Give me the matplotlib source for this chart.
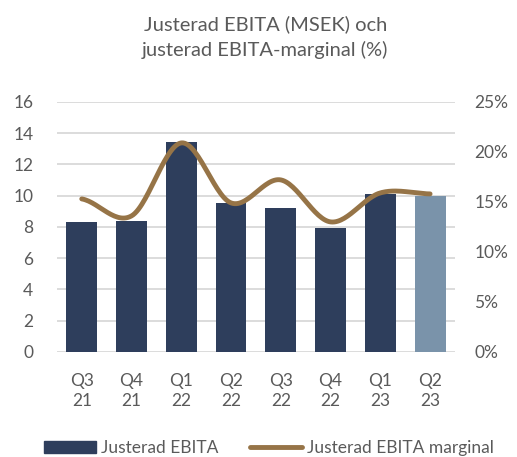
import matplotlib.pyplot as plt
import matplotlib.patches as patches
from matplotlib.lines import Line2D
from matplotlib.ticker import FuncFormatter
import numpy as np

plt.rcParams["font.family"] = ["Lato", "DejaVu Sans"]

quarters = ["Q3\n21", "Q4\n21", "Q1\n22", "Q2\n22", "Q3\n22", "Q4\n22", "Q1\n23", "Q2\n23"]
ebita = [8.3, 8.4, 13.45, 9.5, 9.2, 7.9, 10.1, 9.95]
margin = [15.3, 13.6, 20.9, 14.9, 17.2, 13.0, 15.9, 15.8]

bar_color = "#2E3E5C"
last_color = "#7A93AA"
line_color = "#967447"
text_color = "#5A5A5A"


def smooth(xs, ys, n=30):
    # Catmull-Rom style smoothing, like a "smoothed line" in a spreadsheet
    xs = np.asarray(xs, float)
    ys = np.asarray(ys, float)
    px = np.concatenate([[2 * xs[0] - xs[1]], xs, [2 * xs[-1] - xs[-2]]])
    py = np.concatenate([[ys[0]], ys, [ys[-1]]])
    out_x, out_y = [], []
    t = np.linspace(0, 1, n)
    for i in range(1, len(px) - 2):
        p0, p1, p2, p3 = [np.array([px[j], py[j]]) for j in range(i - 1, i + 3)]
        c1 = p1 + (p2 - p0) / 6
        c2 = p2 - (p3 - p1) / 6
        b = ((1 - t) ** 3)[:, None] * p1 + (3 * (1 - t) ** 2 * t)[:, None] * c1 \
            + (3 * (1 - t) * t ** 2)[:, None] * c2 + (t ** 3)[:, None] * p2
        out_x.extend(b[:, 0])
        out_y.extend(b[:, 1])
    return np.array(out_x), np.array(out_y)


fig = plt.figure(figsize=(5.17, 4.57), dpi=100)
ax = fig.add_axes([0.110, 0.230, 0.770, 0.547])
x = np.arange(len(quarters))
colors = [bar_color] * (len(quarters) - 1) + [last_color]
ax.bar(x, ebita, width=0.62, color=colors, zorder=2)
ax.set_ylim(0, 16)
ax.set_yticks(range(0, 17, 2))
ax.set_xlim(-0.5, len(quarters) - 0.5)
ax.set_xticks(x)
ax.set_xticklabels(quarters, fontsize=12.5, color=text_color, linespacing=1.3)
ax.yaxis.grid(True, color="#D9D9D9", lw=1.3, zorder=0)
ax.set_axisbelow(True)
for s in ax.spines.values():
    s.set_visible(False)
ax.tick_params(length=0, labelsize=12.5, labelcolor=text_color)
ax.tick_params(axis="y", pad=17)
ax.tick_params(axis="x", pad=15)

ax2 = ax.twinx()
ax2.set_ylim(0, 25)
ax2.set_yticks(range(0, 26, 5))
ax2.yaxis.set_major_formatter(FuncFormatter(lambda v, p: f"{v:.0f}%"))
for s in ax2.spines.values():
    s.set_visible(False)
ax2.tick_params(length=0, labelsize=12.5, labelcolor=text_color, pad=14)
sx, sy = smooth(x, margin)
ax2.plot(sx, sy, color=line_color, lw=3.5, solid_capstyle="round", zorder=3)

fig.text(0.513, 0.918, "Justerad EBITA (MSEK) och\njusterad EBITA-marginal (%)",
         ha="center", va="center", fontsize=14.5, color=text_color, linespacing=1.5)

handles = [patches.Patch(color=bar_color, label="Justerad EBITA"),
           Line2D([], [], color=line_color, lw=3.5, solid_capstyle="round",
                  label="Justerad EBITA marginal")]
fig.legend(handles=handles, loc="center", bbox_to_anchor=(0.52, 0.02), ncol=2,
           frameon=False, fontsize=12.5, handlelength=3.0, handletextpad=0.3,
           columnspacing=1.8, labelcolor=text_color)

fig.savefig("out.png", dpi=100)
